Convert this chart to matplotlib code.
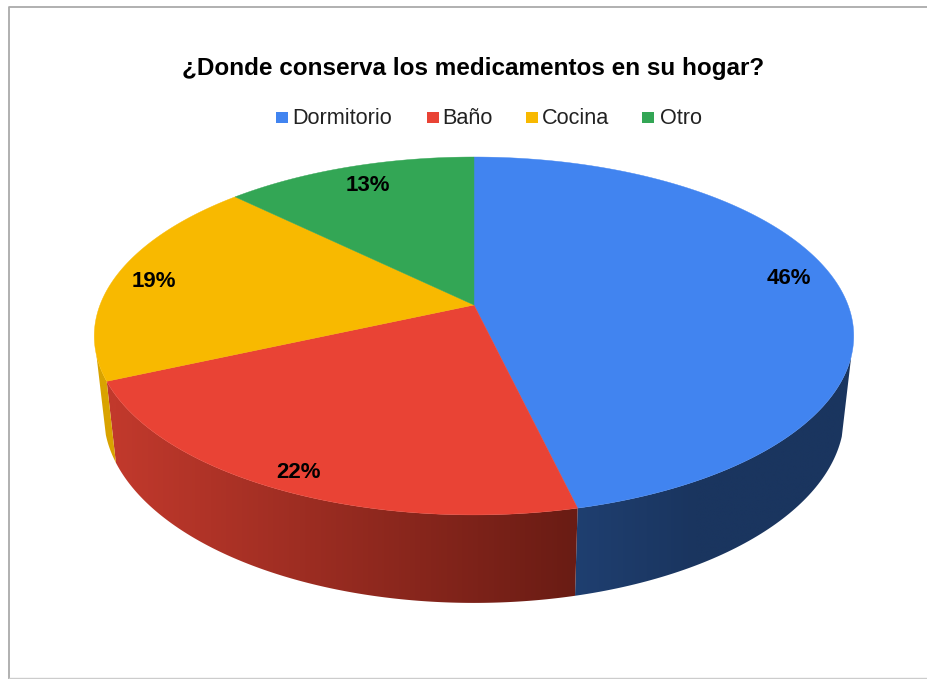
import numpy as np
import matplotlib
matplotlib.use('Agg')
import matplotlib.pyplot as plt
from matplotlib.colors import to_rgb
from matplotlib.patches import Polygon

plt.rcParams['font.family'] = ['Liberation Sans', 'DejaVu Sans']

title = '¿Donde conserva los medicamentos en su hogar?'
labels = ['Dormitorio', 'Baño', 'Cocina', 'Otro']
values = [46.3, 22.0, 19.0, 12.7]
colors = ['#4184f0', '#e94335', '#f8b900', '#33a655']


def top_rim(a):
    # a is clockwise from 12 o'clock; the 3d chart has perspective so the
    # centre of the pie is not the centre of the ellipse
    u = np.sin(a)
    v = np.cos(a)
    k = 0.173
    return 474 + 374 * u / (1 + k * v), 305 - 173.6 * v / (1 + k * v)


def bottom_rim(a):
    x, y = top_rim(a)
    return 474 + (x - 474) * 0.975, y + 80 + (y - 355) * 0.05


def side_color(i, x):
    if i == 1:
        t = np.clip((x - 115) / (573 - 115), 0, 1)
        return np.array(to_rgb('#c1392c')) * (1 - t) + np.array(to_rgb('#6a1c14')) * t
    if i == 0:
        t = np.clip((x - 575) / 120, 0, 1)
        return np.array(to_rgb('#1f3f70')) * (1 - t) + np.array(to_rgb('#1a355f')) * t
    return np.array(to_rgb('#d9a300'))


fig = plt.figure(figsize=(9.27, 6.79), dpi=100)
ax = fig.add_axes([0, 0, 1, 1])

edges = np.cumsum([0] + values) / sum(values) * 2 * np.pi

# sides first, the top surface covers whatever is hidden
for i in range(len(values)):
    steps = np.linspace(edges[i], edges[i + 1], 200)
    steps = steps[np.cos(steps) < -0.27]
    if len(steps) == 0:
        continue
    xt, yt = top_rim(steps)
    xb, yb = bottom_rim(steps)
    poly = np.c_[np.r_[xt, xb[::-1]], np.r_[yt, yb[::-1]]]
    x0, x1 = poly[:, 0].min(), poly[:, 0].max()
    y0, y1 = poly[:, 1].min(), poly[:, 1].max()
    grad = np.array([[side_color(i, x) for x in np.linspace(x0, x1, 300)]])
    im = ax.imshow(grad, extent=(x0, x1, y1, y0), aspect='auto', zorder=2, interpolation='bilinear')
    clip = Polygon(poly, closed=True, transform=ax.transData)
    im.set_clip_path(clip)

for i in range(len(values)):
    steps = np.linspace(edges[i], edges[i + 1], 200)
    xs, ys = top_rim(steps)
    ax.fill(np.r_[474, xs], np.r_[305, ys], color=colors[i], lw=0.3, zorder=3)

ax.set_xlim(0, 927)
ax.set_ylim(679, 0)
ax.axis('off')

ax.text(473.5, 68.5, title, fontsize=17.5, fontweight='bold', ha='center', va='center')

# legend
legend_sq = [276, 427, 526, 642]
legend_tx = [292, 442, 542, 660]
for i in range(len(labels)):
    ax.fill([legend_sq[i], legend_sq[i] + 12, legend_sq[i] + 12, legend_sq[i]],
            [112, 112, 123, 123], color=colors[i], lw=0)
    ax.text(legend_tx[i], 118.5, labels[i], fontsize=15.6, color='#222222', ha='left', va='center')

label_x = [789, 299, 154, 368]
label_y = [278.5, 472.5, 281.5, 185.5]
for i in range(len(values)):
    ax.text(label_x[i], label_y[i], '%d%%' % round(values[i]), fontsize=16, fontweight='bold',
            ha='center', va='center', zorder=5)

# frame of the screenshot
ax.plot([927, 9, 9], [6.5, 6.5, 679], color='#aaaaaa', lw=1.3)
ax.plot([9, 927], [678, 678], color='#cccccc', lw=1)

fig.savefig('out.png', dpi=100)
